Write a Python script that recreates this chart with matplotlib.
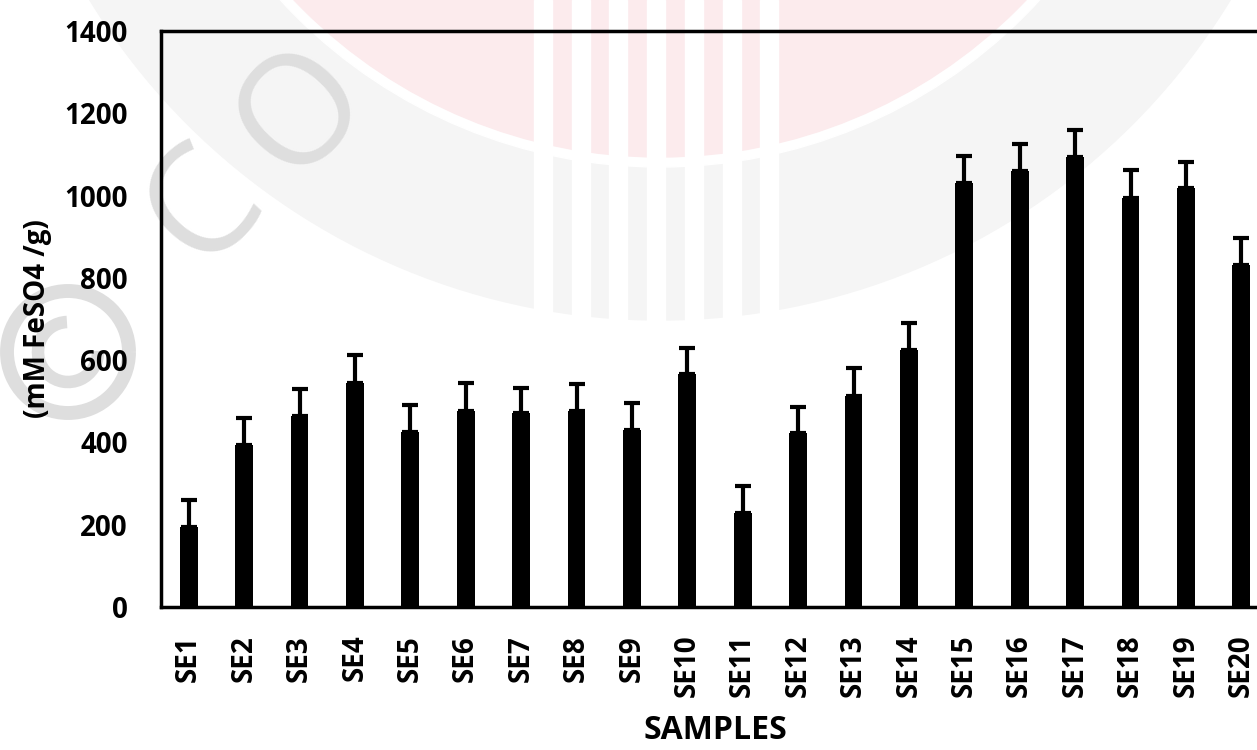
import numpy as np
import matplotlib
matplotlib.use('Agg')
from matplotlib import pyplot as plt
from matplotlib.patches import Circle, Rectangle, Arc

# data
samples = ['SE%d' % i for i in range(1, 21)]
values = [194, 394, 464, 545, 425, 476, 471, 476, 430, 566,
          228, 423, 514, 624, 1031, 1060, 1094, 994, 1018, 831]
errors = [66, 65, 66, 67, 66, 68, 62, 66, 65, 64,
          66, 64, 68, 66, 66, 65, 65, 68, 64, 66]
yticks = [0, 200, 400, 600, 800, 1000, 1200, 1400]

plt.rcParams['font.family'] = ['Open Sans', 'DejaVu Sans']

W, H = 1257, 750
fig = plt.figure(figsize=(W / 100, H / 100), dpi=100)

# faint copyright watermark behind the chart (pixel coords, origin bottom-left)
wm = '#dedede'
fig.patches.append(Circle((660, H + 348), 668, transform=None, color='#f5f5f5', zorder=0))
fig.patches.append(Circle((660, H + 348), 515, transform=None, color='white', zorder=0))
fig.patches.append(Circle((660, H + 348), 505, transform=None, color='#fcebed', zorder=0))
for k in range(7):
    fig.patches.append(Rectangle((534 + 37.7 * k, H - 330), 18, 330, transform=None,
                                 color='white', zorder=0))
# copyright ring drawn as shapes
fig.patches.append(Arc((68, H - 352), 122, 122, transform=None, color=wm, lw=10, zorder=1))
fig.patches.append(Arc((68, H - 352), 60, 60, theta1=92, theta2=362, transform=None,
                       color=wm, lw=9, zorder=1))
for ch, (px, py) in zip(['C', 'O'], [(205, 208), (303, 113)]):
    fig.text(px, H - py, ch, transform=None, fontsize=110, color=wm,
             rotation=47, ha='center', va='center', zorder=1)

# axes run a bit past the right edge, like the cropped scan
ax = fig.add_axes([161 / W, 143 / H, 1108 / W, 576 / H])
ax.set_zorder(2)
ax.patch.set_alpha(0)

x = np.arange(len(samples))
ax.bar(x, values, width=0.32, color='black', zorder=2)
ax.errorbar(x, values, yerr=[np.zeros(len(errors)), errors], fmt='none',
            ecolor='black', elinewidth=3, capsize=6, capthick=3, zorder=3)

ax.set_xlim(-0.5, 19.5)
ax.set_ylim(0, 1400)
ax.set_yticks(yticks)
ax.set_xticks(x)
ax.set_xticklabels(samples, rotation=90)
ax.tick_params(axis='both', length=0, labelsize=20)
ax.tick_params(axis='y', pad=24)
ax.tick_params(axis='x', pad=20)
for lab in ax.get_xticklabels() + ax.get_yticklabels():
    lab.set_fontweight('bold')
for s in ax.spines.values():
    s.set_linewidth(2.5)

ax.set_ylabel('(mM FeSO4 /g)', fontsize=20, fontweight='bold', labelpad=9)
ax.set_xlabel('SAMPLES', fontsize=23, fontweight='bold', labelpad=12)

plt.savefig('out.png', dpi=100)
